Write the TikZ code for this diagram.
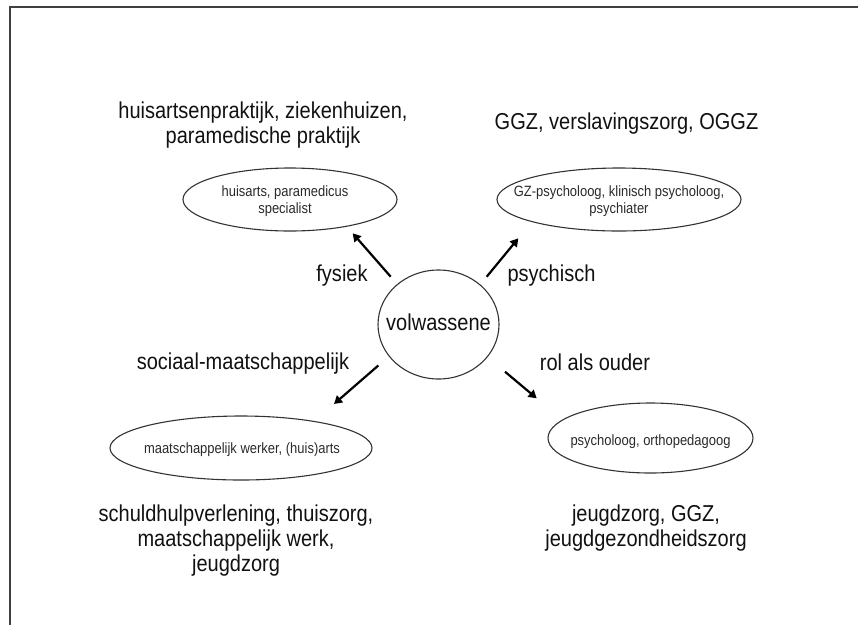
\documentclass[tikz,border=0pt]{standalone}
\usepackage{fontspec}
\setmainfont{Liberation Sans}[FakeStretch=0.87]
\usetikzlibrary{shapes.geometric,arrows.meta}
\definecolor{linegray}{HTML}{333333}
\definecolor{framegray}{HTML}{404040}
\definecolor{textgray}{HTML}{2A2A2A}
\definecolor{bigtext}{HTML}{111111}
\tikzset{
  oval/.style={ellipse, draw=linegray, line width=1.1pt, inner sep=0pt},
  big/.style={font=\fontsize{23}{25}\selectfont, text=bigtext, inner sep=0pt, align=center},
  small/.style={font=\fontsize{14.9}{16.3}\selectfont, text=textgray, inner sep=0pt, align=center},
  arr/.style={line width=2.2pt, draw=black, -{Triangle[length=8pt,width=9pt]}},
  framebar/.style={line width=1.4pt, draw=framegray}
}
\begin{document}
\begin{tikzpicture}[x=1pt,y=-1pt]
\useasboundingbox (0,0) rectangle (858,625);
% frame
\coordinate (f1) at (10,625);
\coordinate (f2) at (10,7);
\coordinate (f3) at (858,7);
\draw[framebar] (f1) -- (f2) -- (f3);
% ellipses
\node[oval, minimum width=214pt, minimum height=63pt] (e1) at (290,199.5) {};
\node[small] (t1) at (285,201.05) {huisarts, paramedicus\\specialist};
\node[oval, minimum width=244pt, minimum height=63pt] (e2) at (619,199.5) {};
\node[small] (t2) at (619,201.05) {GZ-psycholoog, klinisch psycholoog,\\psychiater};
\node[oval, minimum width=262pt, minimum height=64pt] (e3) at (241,448) {};
\node[small, anchor=base] (t3) at (242,453) {maatschappelijk werker, (huis)arts};
\node[oval, minimum width=205pt, minimum height=70pt] (e4) at (650.5,438) {};
\node[small, anchor=base] (t4) at (650.5,445) {psycholoog, orthopedagoog};
% center
\node[oval, minimum width=121pt, minimum height=109pt] (c) at (438.5,324.5) {};
\node[big, anchor=base] (ct) at (438.5,330.7) {volwassene};
% big texts
\node[big] (h1) at (263,124.95) {huisartsenpraktijk, ziekenhuizen,\\paramedische praktijk};
\node[big, anchor=base] (h2) at (626.5,129) {GGZ, verslavingszorg, OGGZ};
\node[big, anchor=base] (l1) at (342,281.7) {fysiek};
\node[big, anchor=base] (l2) at (551.5,281.7) {psychisch};
\node[big, anchor=base] (l3) at (243,369.3) {sociaal-maatschappelijk};
\node[big, anchor=base] (l4) at (595,370) {rol als ouder};
\node[big] (b1) at (236,540.85) {schuldhulpverlening, thuiszorg,\\maatschappelijk werk,\\jeugdzorg};
\node[big] (b2) at (646,528.35) {jeugdzorg, GGZ,\\jeugdgezondheidszorg};
% arrows
\coordinate (a1s) at (390.7,276.7);
\coordinate (a1e) at (352.7,233.3);
\coordinate (a2s) at (486.7,276.7);
\coordinate (a2e) at (518.3,238.3);
\coordinate (a3s) at (378.3,365.5);
\coordinate (a3e) at (334,404);
\coordinate (a4s) at (505,371.7);
\coordinate (a4e) at (536.7,398.3);
\draw[arr] (a1s) -- (a1e);
\draw[arr] (a2s) -- (a2e);
\draw[arr] (a3s) -- (a3e);
\draw[arr] (a4s) -- (a4e);
\end{tikzpicture}
\end{document}
